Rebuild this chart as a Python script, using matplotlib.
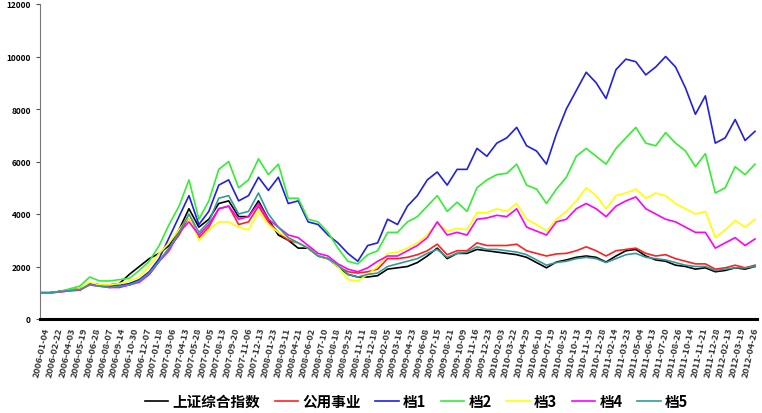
import numpy as np
import matplotlib
matplotlib.use('Agg')
import matplotlib.pyplot as plt

plt.rcParams['font.family'] = ['Noto Sans CJK SC', 'DejaVu Sans']

# 读图估计的净值 (每个点约相隔 1 个月)
sh_index = [1000, 1000, 1050, 1100, 1150, 1350, 1300, 1300, 1350, 1700,
            2000, 2300, 2500, 2800, 3400, 4200, 3500, 3800, 4400, 4500,
            3900, 3900, 4500, 3800, 3200, 3000, 2700, 2700, 2400, 2300,
            2000, 1700, 1600, 1600, 1650, 1900, 1950, 2000, 2150, 2400,
            2700, 2300, 2500, 2500, 2650, 2600, 2550, 2500, 2450, 2350,
            2150, 1950, 2170, 2250, 2350, 2400, 2350, 2170, 2400, 2600,
            2650, 2400, 2250, 2200, 2050, 2000, 1900, 1950, 1800, 1850,
            1950, 1900, 2000]
utility = [1000, 1000, 1030, 1080, 1100, 1350, 1300, 1250, 1250, 1300,
           1450, 1700, 2200, 2700, 3200, 3900, 3100, 3500, 4200, 4300,
           3600, 3700, 4300, 3700, 3300, 3000, 2900, 2700, 2400, 2300,
           2000, 1800, 1750, 1800, 1900, 2300, 2300, 2350, 2450, 2600,
           2850, 2450, 2600, 2600, 2900, 2800, 2800, 2800, 2850, 2600,
           2500, 2400, 2480, 2500, 2600, 2750, 2600, 2400, 2600, 2650,
           2700, 2500, 2400, 2450, 2300, 2200, 2100, 2100, 1900, 1950,
           2050, 1950, 2050]
q1 = [1000, 1000, 1050, 1100, 1150, 1350, 1300, 1250, 1280, 1350,
      1500, 1800, 2300, 3100, 3900, 4700, 3600, 4100, 5100, 5300,
      4500, 4700, 5400, 4900, 5400, 4400, 4500, 3700, 3600, 3200,
      2900, 2500, 2200, 2800, 2900, 3800, 3600, 4300, 4700, 5300,
      5600, 5100, 5700, 5700, 6500, 6200, 6700, 6900, 7300, 6600,
      6400, 5900, 7050, 8000, 8700, 9400, 9000, 8400, 9500, 9900,
      9800, 9300, 9600, 10000, 9600, 8800, 7800, 8500, 6700, 6900,
      7600, 6800, 7150]
q2 = [1000, 1000, 1050, 1150, 1250, 1600, 1450, 1450, 1500, 1550,
      1850, 2200, 2800, 3600, 4300, 5300, 3800, 4500, 5700, 6000,
      5000, 5300, 6100, 5500, 5900, 4600, 4600, 3800, 3700, 3300,
      2700, 2200, 2100, 2450, 2600, 3300, 3300, 3700, 3900, 4300,
      4700, 4100, 4450, 4100, 5000, 5300, 5500, 5550, 5900, 5100,
      4950, 4400, 4950, 5400, 6200, 6500, 6200, 5900, 6500, 6900,
      7300, 6700, 6600, 7100, 6700, 6400, 5800, 6300, 4800, 5000,
      5800, 5500, 5900]
q3 = [1000, 1000, 1030, 1100, 1150, 1400, 1300, 1300, 1350, 1450,
      1600, 2000, 2500, 2900, 3400, 3900, 3000, 3400, 3700, 3700,
      3500, 3400, 4100, 3600, 3300, 3100, 2900, 2700, 2400, 2300,
      2000, 1500, 1450, 1700, 2000, 2500, 2550, 2700, 2900, 3200,
      3650, 3350, 3450, 3400, 4050, 4050, 4200, 4100, 4400, 3800,
      3600, 3350, 3800, 4100, 4500, 5000, 4700, 4200, 4700, 4800,
      4950, 4600, 4800, 4700, 4400, 4200, 4000, 4100, 3100, 3400,
      3750, 3500, 3800]
q4 = [1000, 1000, 1030, 1080, 1100, 1300, 1250, 1200, 1200, 1300,
      1400, 1700, 2200, 2600, 3300, 3700, 3200, 3600, 4200, 4300,
      3800, 3900, 4400, 3800, 3500, 3200, 3100, 2800, 2500, 2400,
      2100, 1900, 1800, 1950, 2200, 2400, 2400, 2600, 2800, 3100,
      3700, 3200, 3300, 3200, 3800, 3850, 3950, 3900, 4200, 3500,
      3350, 3200, 3700, 3800, 4200, 4400, 4200, 3900, 4300, 4500,
      4650, 4200, 4000, 3800, 3700, 3500, 3300, 3300, 2700, 2900,
      3100, 2800, 3050]
q5 = [1000, 1000, 1040, 1090, 1120, 1300, 1250, 1200, 1250, 1300,
      1450, 1750, 2200, 2700, 3300, 4000, 3300, 3700, 4600, 4700,
      4000, 4100, 4800, 4000, 3500, 3100, 2900, 2700, 2400, 2300,
      2050, 1700, 1600, 1700, 1750, 2000, 2100, 2200, 2300, 2500,
      2650, 2350, 2500, 2550, 2750, 2650, 2650, 2600, 2550, 2450,
      2250, 2050, 2150, 2200, 2300, 2350, 2300, 2150, 2300, 2450,
      2500, 2350, 2300, 2250, 2150, 2050, 2000, 2000, 1850, 1900,
      1950, 1950, 2000]

names = ['上证综合指数', '公用事业', '档1', '档2', '档3', '档4', '档5']
colors = ['black', '#ff2020', '#2020e0', '#33ee33', '#ffff00', '#ff00ff', '#339999']

date_labels = ['2006-01-04', '2006-02-22', '2006-04-03', '2006-05-19', '2006-06-28',
               '2006-08-07', '2006-09-14', '2006-10-30', '2006-12-07', '2007-01-18',
               '2007-03-06', '2007-04-13', '2007-05-28', '2007-07-05', '2007-08-13',
               '2007-09-20', '2007-11-06', '2007-12-13', '2008-01-23', '2008-03-11',
               '2008-04-21', '2008-06-02', '2008-07-10', '2008-08-18', '2008-09-25',
               '2008-11-11', '2008-12-18', '2009-02-05', '2009-03-16', '2009-04-23',
               '2009-06-08', '2009-07-15', '2009-08-21', '2009-10-09', '2009-11-16',
               '2009-12-23', '2010-02-03', '2010-03-22', '2010-04-29', '2010-06-10',
               '2010-07-19', '2010-08-25', '2010-10-13', '2010-11-19', '2010-12-28',
               '2011-02-14', '2011-03-23', '2011-05-04', '2011-06-13', '2011-07-20',
               '2011-08-26', '2011-10-14', '2011-11-21', '2011-12-28', '2012-02-13',
               '2012-03-19', '2012-04-26']

series = [sh_index, utility, q1, q2, q3, q4, q5]

fig = plt.figure(figsize=(7.62, 4.14), dpi=100)
ax = fig.add_axes([40 / 762, 1 - 320 / 414, 717 / 762, 315 / 414])

x = np.arange(len(sh_index))
for s, c, n in zip(series, colors, names):
    ax.plot(x, s, color=c, lw=1.2, label=n)

ax.set_xlim(0, len(sh_index) - 0.8)
ax.set_ylim(0, 12000)
ax.set_yticks(np.arange(0, 12001, 2000))
ax.tick_params(axis='y', labelsize=6, length=3, width=0.8, colors='#555555',
               labelcolor='black')
for t in ax.get_yticklabels():
    t.set_fontweight('bold')

ticks = np.linspace(0.2, len(sh_index) - 1.5, len(date_labels))
ax.set_xticks(ticks)
ax.set_xticklabels(date_labels, rotation=78, fontsize=6.7, fontweight='bold',
                   ha='center', va='top', color='#333333')
ax.tick_params(axis='x', length=0, pad=5)

ax.spines['top'].set_visible(False)
ax.spines['right'].set_visible(False)
ax.spines['left'].set_color('#777777')
ax.spines['left'].set_linewidth(0.8)
ax.spines['bottom'].set_linewidth(2.2)

leg = ax.legend(loc='center', bbox_to_anchor=(0.525, -(402 - 320) / 315), ncol=7,
                frameon=False, handlelength=1.6, handletextpad=0.3,
                columnspacing=1.0, prop={'size': 10.5, 'weight': 'bold'})

fig.savefig('out.png', dpi=100)
